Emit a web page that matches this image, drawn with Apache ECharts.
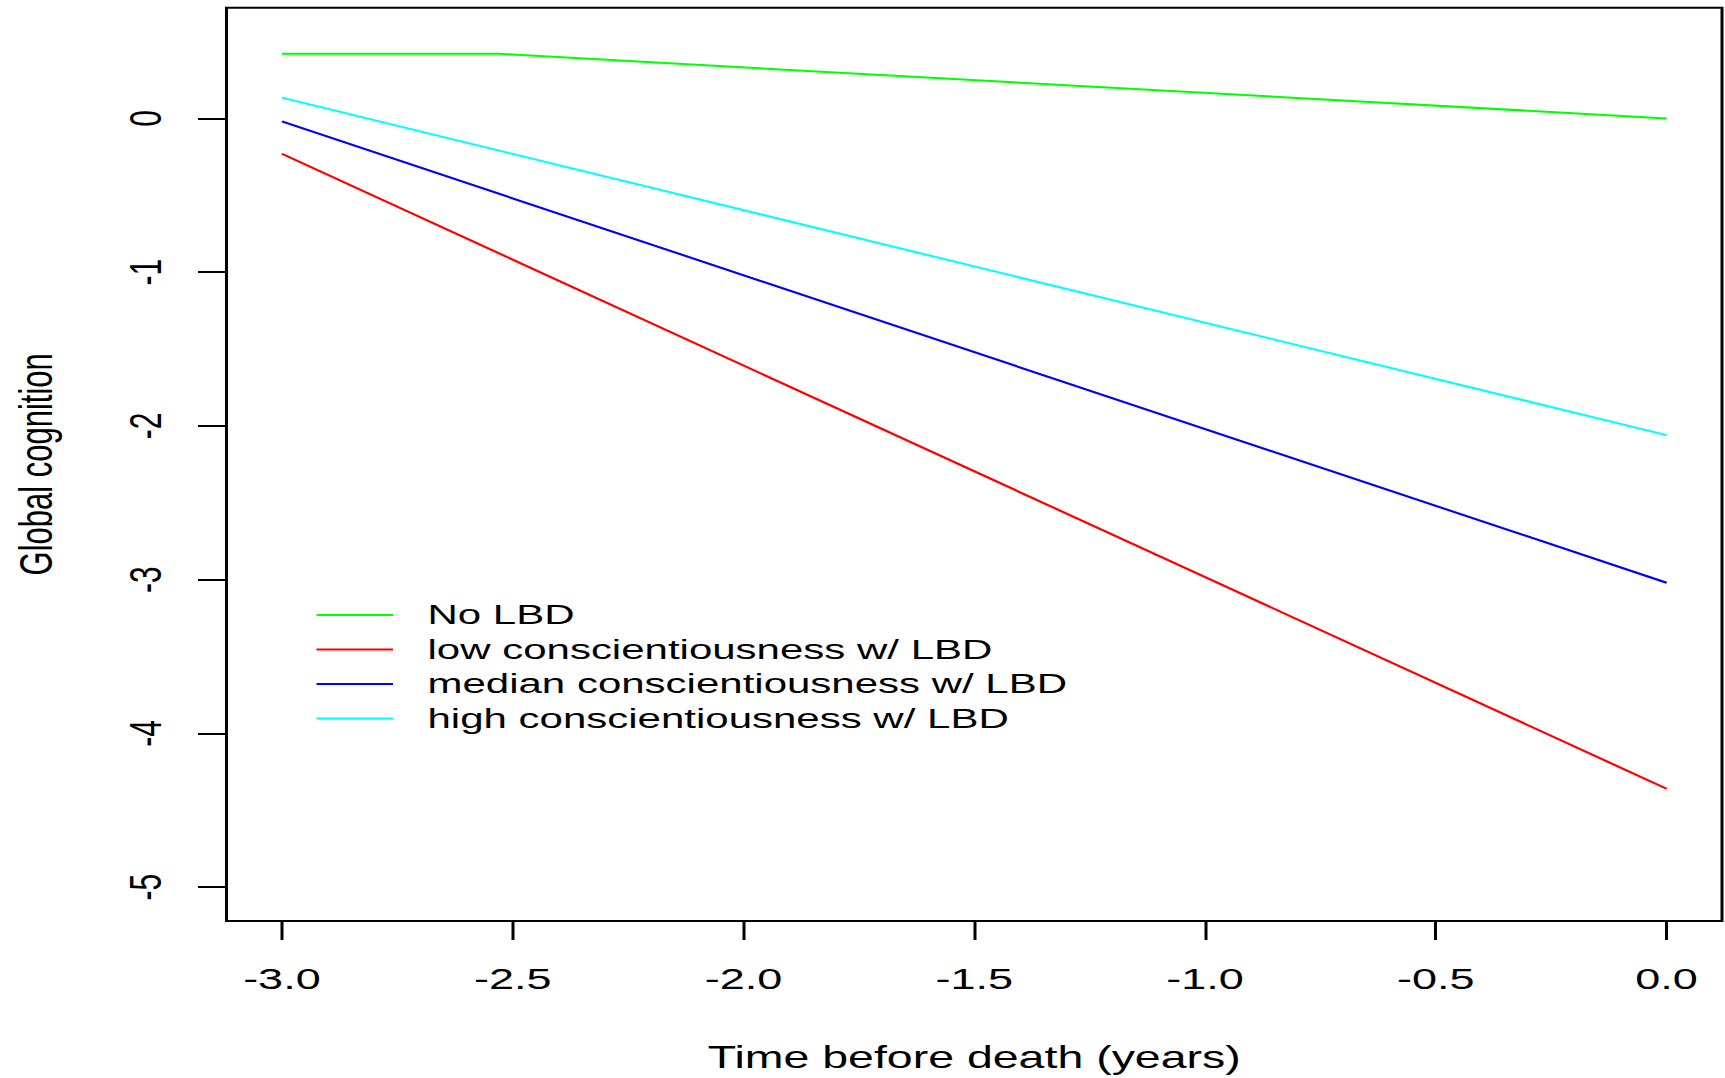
<!DOCTYPE html>
<html>
<head>
<meta charset="utf-8">
<script src="https://cdn.jsdelivr.net/npm/echarts@6/dist/echarts.min.js"></script>
<style>
  html, body { margin: 0; padding: 0; background: #fff; overflow: hidden; }
  /* the reference is a horizontally stretched R plot, so draw narrow and stretch */
  #main { width: 1150px; height: 1078px; transform: scaleX(1.5); transform-origin: 0 0; }
</style>
</head>
<body>
<div id="main"></div>
<script>
// years before death
var times = [-3, 0]
var noLbdTimes = [-3, -2.53, 0]
var noLbdValues = [0.42, 0.42, 0.0]
var lowValues = [-0.23, -4.36]
var medianValues = [-0.02, -3.02]
var highValues = [0.135, -2.06]

var xTicks = [-3, -2.5, -2, -1.5, -1, -0.5, 0]
var yTicks = [-5, -4, -3, -2, -1, 0]

var seriesNames = ['No LBD', 'low conscientiousness w/ LBD', 'median conscientiousness w/ LBD', 'high conscientiousness w/ LBD']
var seriesColors = ['#00ff00', '#ff0000', '#0000ff', '#00ffff']

function zip (xs, ys) {
  return xs.map(function (x, i) { return [x, ys[i]] })
}

var font = 'Liberation Sans, Arial, sans-serif'

var seriesData = [
  zip(noLbdTimes, noLbdValues),
  zip(times, lowValues),
  zip(times, medianValues),
  zip(times, highValues)
]

var myChart = echarts.init(document.getElementById('main'), null, { renderer: 'svg' })
myChart.setOption({
  animation: false,
  color: seriesColors,
  legend: {
    orient: 'vertical',
    left: 211,
    top: 600,
    padding: 0,
    icon: 'rect',
    itemWidth: 51,
    itemHeight: 2,
    itemGap: 4.5,
    selectedMode: false,
    data: seriesNames,
    textStyle: {
      fontFamily: font,
      fontSize: 28,
      lineHeight: 30,
      color: '#000',
      padding: [0, 0, 0, 18]
    }
  },
  grid: {
    left: 150.5,
    top: 7.7,
    width: 997.5,
    height: 914.2,
    show: true,
    borderColor: '#000',
    borderWidth: 2,
    backgroundColor: 'transparent'
  },
  xAxis: {
    type: 'value',
    min: -3.12,
    max: 0.12,
    name: 'Time before death (years)',
    nameLocation: 'middle',
    nameGap: 121,
    nameTextStyle: { fontFamily: font, fontSize: 31, color: '#000' },
    axisLine: { show: false, onZero: false },
    splitLine: { show: false },
    axisTick: {
      show: true,
      customValues: xTicks,
      length: 19,
      lineStyle: { color: '#000', width: 2 }
    },
    axisLabel: {
      customValues: xTicks,
      margin: 42,
      fontFamily: font,
      fontSize: 30,
      color: '#000',
      formatter: function (v) { return (Math.abs(v) < 1e-9 ? 0 : v).toFixed(1) }
    }
  },
  yAxis: {
    type: 'value',
    min: -5.22,
    max: 0.72,
    name: 'Global cognition',
    nameLocation: 'middle',
    nameGap: 112,
    nameTextStyle: { fontFamily: font, fontSize: 31, color: '#000' },
    axisLine: { show: false, onZero: false },
    splitLine: { show: false },
    axisTick: {
      show: true,
      customValues: yTicks,
      length: 19,
      lineStyle: { color: '#000', width: 2 }
    },
    axisLabel: {
      customValues: yTicks,
      rotate: 90,
      margin: 39,
      fontFamily: font,
      fontSize: 30,
      color: '#000',
      formatter: function (v) { return String(Math.round(v)) }
    }
  },
  series: seriesNames.map(function (name, i) {
    return {
      name: name,
      type: 'line',
      symbol: 'none',
      data: seriesData[i],
      lineStyle: { width: 2, color: seriesColors[i] },
      itemStyle: { color: seriesColors[i] }
    }
  })
})
</script>
</body>
</html>
